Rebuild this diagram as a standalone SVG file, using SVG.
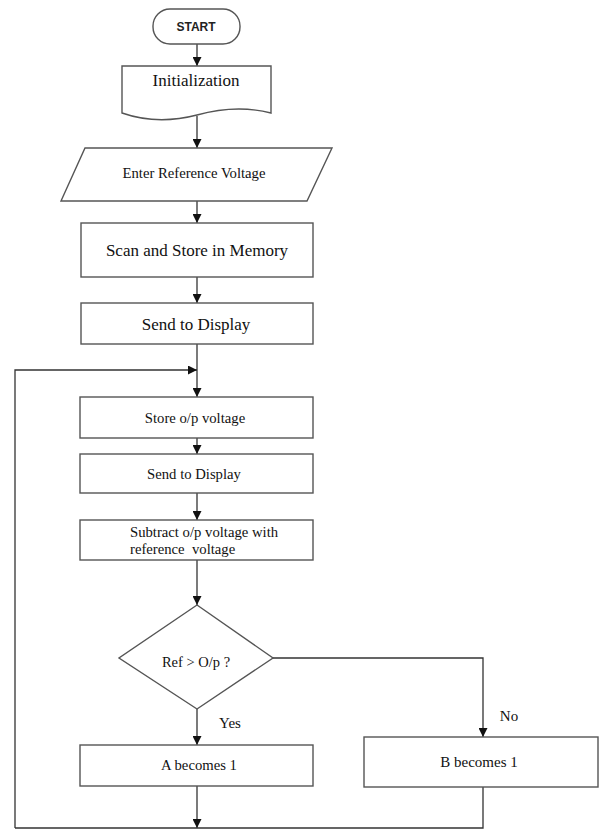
<svg xmlns="http://www.w3.org/2000/svg" width="600" height="830" viewBox="0 0 600 830">
<style>
.shape{fill:#fff;stroke:#555;stroke-width:1.4}
.ln{fill:none;stroke:#333;stroke-width:1.3}
.t{font-family:"Liberation Serif",serif;fill:#111;text-anchor:middle}
.tl{font-family:"Liberation Serif",serif;fill:#111;text-anchor:start}
</style>
<defs>
<marker id="ah" viewBox="0 0 10 10" refX="10" refY="5" markerWidth="9" markerHeight="9" markerUnits="userSpaceOnUse" orient="auto">
<path d="M0,0 L10,5 L0,10 z" fill="#111"/>
</marker>
</defs>
<rect width="600" height="830" fill="#fff"/>
<g id="connectors">
<path class="ln" d="M197,44 V66" marker-end="url(#ah)"/>
<path class="ln" d="M197,116 V148" marker-end="url(#ah)"/>
<path class="ln" d="M197,201 V223" marker-end="url(#ah)"/>
<path class="ln" d="M197,277 V303" marker-end="url(#ah)"/>
<path class="ln" d="M197,344 V397" marker-end="url(#ah)"/>
<path class="ln" d="M15,828 V370 H197" marker-end="url(#ah)"/>
<path class="ln" d="M197,438 V454" marker-end="url(#ah)"/>
<path class="ln" d="M197,493 V520" marker-end="url(#ah)"/>
<path class="ln" d="M197,560 V605" marker-end="url(#ah)"/>
<path class="ln" d="M197,709 V745" marker-end="url(#ah)"/>
<path class="ln" d="M273,658 H483 V737" marker-end="url(#ah)"/>
<path class="ln" d="M197,786 V828" marker-end="url(#ah)"/>
<path class="ln" d="M483,787 V828 H15"/>
</g>
<g id="start">
<rect class="shape" x="153" y="9" width="87" height="35" rx="17" ry="17"/>
<text x="196" y="31" font-family="Liberation Sans,Arial,sans-serif" font-size="12" font-weight="bold" text-anchor="middle" fill="#222">START</text>
</g>
<g id="init">
<path class="shape" d="M122,66 H271 V113 C240,105 215,110 197,115 C170,122 145,121 122,113 Z"/>
<text class="t" x="196" y="86" font-size="17">Initialization</text>
</g>
<g id="enter">
<path class="shape" d="M85,148 H332 L307,201 H61 Z"/>
<text class="t" x="194" y="178" font-size="14.7">Enter Reference Voltage</text>
</g>
<g id="scan">
<rect class="shape" x="81" y="223" width="232" height="54"/>
<text class="t" x="197" y="256" font-size="17">Scan and Store in Memory</text>
</g>
<g id="send1">
<rect class="shape" x="81" y="303" width="232" height="41"/>
<text class="t" x="196" y="330" font-size="17">Send to Display</text>
</g>
<g id="store">
<rect class="shape" x="80" y="397" width="233" height="41"/>
<text class="t" x="195" y="423" font-size="14.7">Store o/p voltage</text>
</g>
<g id="send2">
<rect class="shape" x="80" y="454" width="233" height="39"/>
<text class="t" x="194" y="479" font-size="14.7">Send to Display</text>
</g>
<g id="subtract">
<rect class="shape" x="80" y="520" width="233" height="40"/>
<text class="tl" x="130" y="537" font-size="14.7">Subtract o/p voltage with</text>
<text class="tl" x="130" y="554" font-size="14.7" xml:space="preserve">reference  voltage</text>
</g>
<g id="decision">
<path class="shape" d="M197,605 L273,658 L197,709 L119,658 Z"/>
<text class="t" x="196" y="667" font-size="14.5">Ref &gt; O/p ?</text>
</g>
<g id="labels">
<text class="t" x="230" y="728" font-size="15">Yes</text>
<text class="t" x="509" y="721" font-size="15">No</text>
</g>
<g id="a1">
<rect class="shape" x="80" y="745" width="233" height="41"/>
<text class="t" x="199" y="770" font-size="14.7">A becomes 1</text>
</g>
<g id="b1">
<rect class="shape" x="364" y="737" width="234" height="50"/>
<text class="t" x="479" y="767" font-size="15">B becomes 1</text>
</g>
</svg>
